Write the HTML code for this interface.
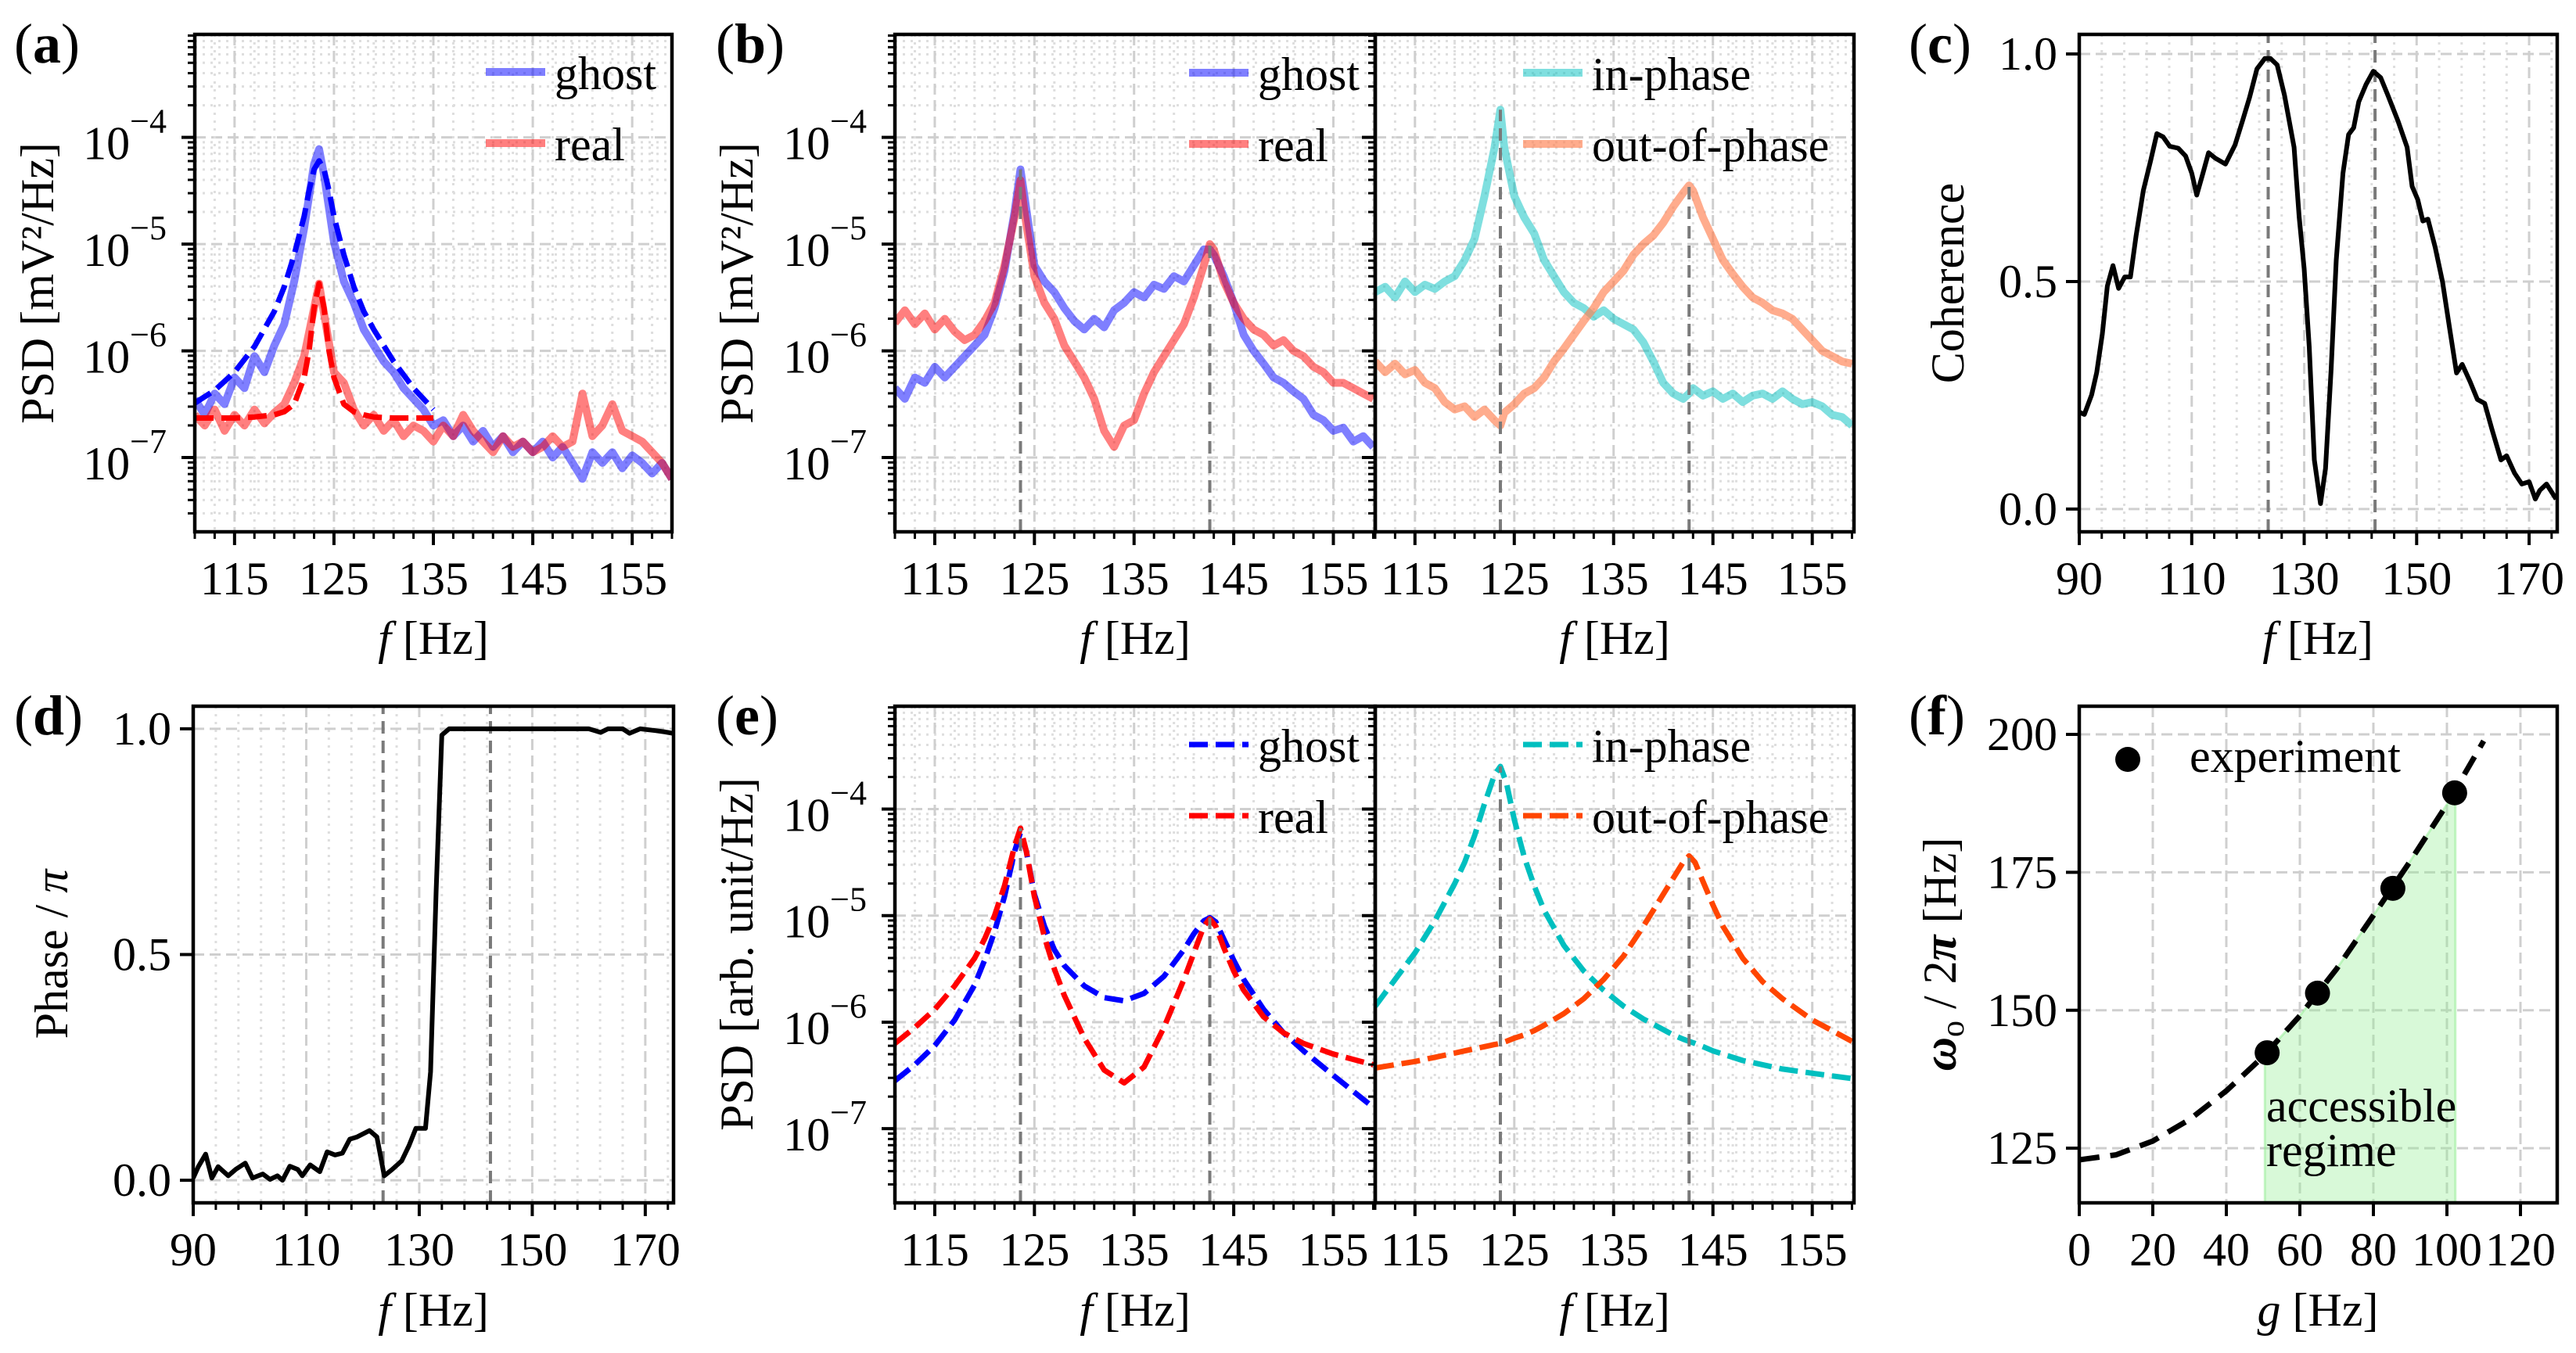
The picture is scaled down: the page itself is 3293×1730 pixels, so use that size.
<!DOCTYPE html>
<html><head><meta charset="utf-8">
<style>
html,body{margin:0;padding:0;background:#fff;}
svg{display:block;font-family:"Liberation Serif","DejaVu Serif",serif;}
</style></head>
<body>
<svg id="fig" width="3293" height="1730" viewBox="0 0 3293 1730" xmlns="http://www.w3.org/2000/svg"></svg>
<script>
// ---------- DATA ----------
const fA=[111,112,113,114,115,116,117,118,119,120,121,122,123,123.5,124,125,126,127,128,129,130,131,132,133,134,135,136,137,138,139,140,141,142,143,144,145,146,147,148,149,150,151,152,153,154,155,156,157,158,159];
const ghostA=[-6.45,-6.60,-6.40,-6.50,-6.25,-6.35,-6.05,-6.20,-5.95,-5.75,-5.35,-4.85,-4.25,-4.11,-4.35,-4.98,-5.35,-5.55,-5.80,-5.95,-6.10,-6.20,-6.35,-6.45,-6.55,-6.70,-6.65,-6.80,-6.70,-6.85,-6.75,-6.90,-6.80,-6.95,-6.85,-6.95,-6.85,-7.00,-6.90,-7.05,-7.20,-6.95,-7.05,-6.95,-7.10,-6.98,-7.05,-7.15,-7.05,-7.20];
const realA=[-6.60,-6.70,-6.55,-6.75,-6.60,-6.70,-6.55,-6.68,-6.58,-6.50,-6.30,-6.05,-5.60,-5.37,-5.65,-6.20,-6.30,-6.55,-6.70,-6.60,-6.75,-6.65,-6.80,-6.70,-6.75,-6.85,-6.70,-6.80,-6.60,-6.75,-6.85,-6.95,-6.80,-6.90,-6.85,-6.95,-6.90,-6.80,-6.90,-6.85,-6.40,-6.80,-6.70,-6.50,-6.75,-6.80,-6.85,-6.95,-7.05,-7.20];
const fitF=[111,113,115,117,119,120,121,122,122.5,123,123.5,124,124.5,125,126,127,128,129,131,133,135];
const ghostFitA=[-6.49,-6.37,-6.20,-5.96,-5.63,-5.40,-5.10,-4.74,-4.50,-4.30,-4.22,-4.30,-4.50,-4.74,-5.10,-5.40,-5.63,-5.80,-6.10,-6.35,-6.55];
const realFitA=[-6.63,-6.63,-6.63,-6.62,-6.60,-6.57,-6.50,-6.25,-6.00,-5.60,-5.37,-5.60,-6.00,-6.25,-6.50,-6.57,-6.60,-6.62,-6.63,-6.63,-6.63];
const fB=[111,112,113,114,115,116,117,118,119,120,121,122,123,123.6,124,125,126,127,128,129,130,131,132,133,134,135,136,137,138,139,140,141,142,142.6,143,144,145,146,147,148,149,150,151,152,153,154,155,156,157,158,159];
const ghostB=[-6.35,-6.45,-6.25,-6.30,-6.15,-6.25,-6.15,-6.05,-5.95,-5.85,-5.60,-5.25,-4.70,-4.30,-4.55,-5.20,-5.35,-5.45,-5.60,-5.72,-5.80,-5.70,-5.78,-5.62,-5.55,-5.45,-5.50,-5.38,-5.42,-5.30,-5.35,-5.20,-5.05,-5.05,-5.10,-5.30,-5.55,-5.85,-6.00,-6.12,-6.25,-6.30,-6.38,-6.45,-6.60,-6.65,-6.75,-6.72,-6.85,-6.80,-6.90];
const realB=[-5.74,-5.62,-5.75,-5.65,-5.80,-5.70,-5.82,-5.90,-5.85,-5.72,-5.55,-5.20,-4.75,-4.40,-4.70,-5.30,-5.55,-5.70,-5.95,-6.10,-6.25,-6.45,-6.75,-6.90,-6.70,-6.65,-6.40,-6.20,-6.05,-5.90,-5.75,-5.50,-5.20,-5.00,-5.05,-5.35,-5.55,-5.70,-5.80,-5.85,-5.95,-5.90,-6.00,-6.05,-6.15,-6.20,-6.30,-6.30,-6.35,-6.40,-6.45];
const inB=[-5.45,-5.40,-5.50,-5.35,-5.45,-5.38,-5.42,-5.35,-5.30,-5.15,-4.95,-4.55,-4.10,-3.74,-4.10,-4.55,-4.75,-4.90,-5.15,-5.30,-5.45,-5.55,-5.60,-5.68,-5.62,-5.70,-5.75,-5.80,-5.92,-6.10,-6.30,-6.40,-6.45,-6.40,-6.35,-6.42,-6.38,-6.45,-6.40,-6.48,-6.42,-6.40,-6.45,-6.38,-6.45,-6.50,-6.48,-6.52,-6.60,-6.62,-6.70];
const outB=[-6.10,-6.20,-6.12,-6.22,-6.18,-6.30,-6.35,-6.48,-6.55,-6.52,-6.62,-6.55,-6.65,-6.70,-6.58,-6.50,-6.40,-6.35,-6.25,-6.10,-5.98,-5.85,-5.72,-5.60,-5.45,-5.35,-5.25,-5.10,-5.00,-4.92,-4.80,-4.65,-4.52,-4.45,-4.50,-4.75,-4.95,-5.15,-5.28,-5.40,-5.50,-5.55,-5.62,-5.65,-5.70,-5.80,-5.90,-6.00,-6.05,-6.10,-6.12];
const fE=[111,113,115,117,119,120,121,122,123,123.6,124.2,125,126,127,128,130,132,134,136,138,140,141,142,142.6,143.2,144,145,146,148,150,152,155,159];
const ghostE=[-6.55,-6.40,-6.22,-5.98,-5.65,-5.42,-5.15,-4.82,-4.40,-4.22,-4.40,-4.80,-5.10,-5.32,-5.47,-5.66,-5.77,-5.80,-5.73,-5.57,-5.32,-5.17,-5.05,-5.02,-5.06,-5.22,-5.42,-5.60,-5.88,-6.10,-6.27,-6.50,-6.80];
const realE=[-6.20,-6.05,-5.88,-5.66,-5.40,-5.22,-5.00,-4.72,-4.35,-4.18,-4.40,-4.82,-5.20,-5.50,-5.75,-6.15,-6.45,-6.57,-6.42,-6.05,-5.60,-5.35,-5.10,-5.03,-5.10,-5.30,-5.52,-5.70,-5.95,-6.10,-6.20,-6.30,-6.40];
const inE=[-5.85,-5.60,-5.35,-5.05,-4.70,-4.50,-4.25,-3.95,-3.68,-3.60,-3.75,-4.10,-4.45,-4.72,-4.95,-5.28,-5.52,-5.70,-5.85,-5.97,-6.07,-6.12,-6.16,-6.18,-6.20,-6.23,-6.27,-6.30,-6.36,-6.40,-6.44,-6.48,-6.53];
const outE=[-6.43,-6.40,-6.37,-6.33,-6.29,-6.27,-6.25,-6.23,-6.21,-6.20,-6.18,-6.15,-6.12,-6.08,-6.03,-5.92,-5.78,-5.60,-5.38,-5.10,-4.80,-4.65,-4.50,-4.44,-4.50,-4.68,-4.90,-5.10,-5.40,-5.62,-5.78,-5.98,-6.18];
const cohF=[90,90.9,92.2,93.1,94.1,95,96,97,98.1,99.1,100.1,101.4,102.7,103.8,104.9,106.1,107.6,108.9,110,110.9,112,113,114.2,116,117.7,119,120.3,121.6,123,124,125.2,126.5,128.2,129.1,130,130.9,131.8,132.9,133.8,134.8,135.7,136.9,137.9,138.8,139.7,141,142.3,143.6,144.9,146.7,148.3,149.2,150.2,151.1,152,153.3,154.6,155.9,157.1,158.1,159.5,160.8,162.1,163.4,165,166,167.4,168.7,170,171.1,171.9,173.1,174.8];
const cohV=[0.213,0.208,0.251,0.30,0.385,0.49,0.535,0.485,0.51,0.51,0.60,0.70,0.766,0.825,0.818,0.797,0.793,0.776,0.738,0.69,0.738,0.783,0.771,0.758,0.80,0.852,0.905,0.967,0.99,0.99,0.976,0.909,0.795,0.642,0.528,0.356,0.108,0.012,0.089,0.308,0.547,0.738,0.823,0.838,0.895,0.933,0.962,0.948,0.909,0.852,0.795,0.709,0.68,0.633,0.637,0.575,0.499,0.394,0.299,0.318,0.28,0.241,0.232,0.175,0.108,0.117,0.079,0.055,0.06,0.022,0.041,0.055,0.022];
const phF=[90,90.9,92.2,93.3,94.4,96.2,97.5,99.2,100.5,102.3,103.6,104.9,105.8,107.1,108.5,109.3,110.7,112.4,113.7,115.1,116.4,117.7,119,121.2,122.5,123.8,125.2,126.9,128.2,129.4,131.1,132,133,134,135.3,140,150,160,162.1,163.4,166,167.2,169.1,171.8,173.5,174.8];
const phV=[0.005,0.03,0.058,0.005,0.03,0.01,0.024,0.038,0.005,0.014,0.002,0.01,0.0,0.031,0.024,0.01,0.034,0.019,0.063,0.056,0.06,0.091,0.096,0.11,0.096,0.01,0.024,0.043,0.077,0.115,0.115,0.24,0.644,0.986,1.0,1.0,1.0,1.0,0.992,1.0,1.0,0.99,1.0,0.996,0.993,0.99];
const expG=[51.1,64.8,85.3,102.1];
const expW=[142.3,153.1,172.1,189.4];
const modelG=[0,10,20,30,40,50,60,70,80,90,100,110];
const modelW=[122.9,123.8,126.3,130.2,135.4,141.6,149.0,157.5,167.2,177.0,187.3,198.8];
const regimeRange=[50.5,102.3];
const refLines=[123.6,142.6];
const psdTicks=[-7,-6,-5,-4];
const fTicks=[115,125,135,145,155];
const wideTicks=[90,110,130,150,170];
const unitTicks=[0,0.5,1.0];
const gTicks=[0,20,40,60,80,100,120];
const wTicks=[125,150,175,200];

// ---------- HELPERS ----------
const NS='http://www.w3.org/2000/svg';
const svg=document.getElementById('fig');
function mk(tag,attrs,parent){const e=document.createElementNS(NS,tag);for(const k in attrs)e.setAttribute(k,attrs[k]);(parent||svg).appendChild(e);return e;}
const FS=60;
const GRIDC='#cfcfcf', MINC='#dedede';

function makeAxes(name,x0,x1,y0,y1,xmin,xmax,ymin,ymax){
  const g=mk('g',{});
  
  
  const sx=v=>x0+(v-xmin)/(xmax-xmin)*(x1-x0);
  const sy=v=>y1-(v-ymin)/(ymax-ymin)*(y1-y0);
  const cid='clip-'+name;
  const cp=mk('clipPath',{id:cid},g);
  mk('rect',{x:x0,y:y0,width:x1-x0,height:y1-y0},cp);
  const grid=mk('g',{},g);
  
  
  const plot=mk('g',{'clip-path':'url(#'+cid+')'},g);
  
  
  const over=mk('g',{},g);
  return {g,grid,plot,over,sx,sy,x0,x1,y0,y1,xmin,xmax,ymin,ymax};
}
function vgrid(A,v,minor){
  const l=mk('line',{x1:A.sx(v),x2:A.sx(v),y1:A.y0,y2:A.y1,stroke:minor?MINC:GRIDC,'stroke-width':minor?3:3,'stroke-dasharray':minor?'3 7':'14 7'},A.grid);
  
  
}
function hgrid(A,v,minor){
  const l=mk('line',{x1:A.x0,x2:A.x1,y1:A.sy(v),y2:A.sy(v),stroke:minor?MINC:GRIDC,'stroke-width':3,'stroke-dasharray':minor?'3 7':'14 7'},A.grid);
  
  
}
function xtick(A,v,len,label,lw){
  const x=A.sx(v);
  mk('line',{x1:x,x2:x,y1:A.y1,y2:A.y1+len,stroke:'#000','stroke-width':lw||4},A.over);
  if(label!==undefined){
    const t=mk('text',{x:x,y:A.y1+80,'text-anchor':'middle','font-size':FS},A.over);
    
    
    t.textContent=label;
  }
}
function ytick(A,v,len,lw){
  const y=A.sy(v);
  mk('line',{x1:A.x0-len,x2:A.x0,y1:y,y2:y,stroke:'#000','stroke-width':lw||4},A.over);
}
function ylabelLin(A,v,label){
  const t=mk('text',{x:A.x0-28,y:A.sy(v)+20,'text-anchor':'end','font-size':FS},A.over);
  
  
  t.textContent=label;
}
function ylabelLog(A,v){
  const t=mk('text',{x:A.x0-36,y:A.sy(v)+28,'text-anchor':'end','font-size':FS},A.over);
  
  
  t.appendChild(document.createTextNode('10'));
  const s=mk('tspan',{dy:-34,'font-size':44},t);
  s.textContent='\u2212'+Math.abs(v);
}
function frame(A){
  const r=mk('rect',{x:A.x0,y:A.y0,width:A.x1-A.x0,height:A.y1-A.y0,fill:'none',stroke:'#000','stroke-width':4.5},A.over);
  
  
}
function line(A,xs,ys,attrs,nm){
  let d='';
  for(let i=0;i<xs.length;i++){d+=(i?'L':'M')+A.sx(xs[i]).toFixed(1)+','+A.sy(ys[i]).toFixed(1);}
  const p=mk('path',Object.assign({d:d,fill:'none','stroke-linejoin':'round','stroke-linecap':'butt'},attrs),A.plot);
  
  
  return p;
}
function refLine(A,f,top){
  const l=mk('line',{x1:A.sx(f),x2:A.sx(f),y1:A.y1,y2:top===undefined?A.y0:A.sy(top),stroke:'#7a7a7a','stroke-width':4,'stroke-dasharray':'16 9'},A.plot);
  
  
}
function text(x,y,str,fs,nm,anchor,extra){
  const t=mk('text',Object.assign({x:x,y:y,'font-size':fs,'text-anchor':anchor||'start'},extra||{}));
  
  
  t.innerHTML=str;
  return t;
}
function legendEntry(x,y,color,label,dashed,nm){
  const g=mk('g',{});
  
  
  const a={x1:x,x2:x+76,y1:y,y2:y,stroke:color,'stroke-width':dashed?7:10};
  if(dashed)a['stroke-dasharray']='24 10';
  mk('line',a,g);
  const t=mk('text',{x:x+88,y:y+22,'font-size':FS},g);
  t.textContent=label;
}
function logTicks(A,isLeftLabeled){
  for(let d=-8;d<=-3;d++){
    for(let k=1;k<=9;k++){
      const v=d+Math.log10(k);
      if(v<A.ymin||v>A.ymax)continue;
      if(k===1){hgrid(A,v,false);ytick(A,v,17,4);if(isLeftLabeled)ylabelLog(A,v);}
      else{hgrid(A,v,true);ytick(A,v,9,3);}
    }
  }
}
function fTickSet(A){
  for(let f=111;f<=159;f+=2){
    if(fTicks.indexOf(f)>=0){vgrid(A,f,false);xtick(A,f,17,String(f));}
    else{vgrid(A,f,true);xtick(A,f,9,undefined,3);}
  }
}
function wideTickSet(A){
  for(let f=90;f<=175;f+=4){
    if(wideTicks.indexOf(f)>=0)continue;
    vgrid(A,f,true);xtick(A,f,9,undefined,3);
  }
  for(const f of [94,98,102,106,114,118,122,126,134,138,142,146,154,158,162,166,174]){}
  wideTicks.forEach(f=>{vgrid(A,f,false);xtick(A,f,17,String(f));});
  unitTicks.forEach(v=>{hgrid(A,v,false);ytick(A,v,17);ylabelLin(A,v,v.toFixed(1));});
}
function fLabel(cx,y){
  text(cx,y,'<tspan font-style="italic">f</tspan> [Hz]',FS,'x-axis-title','middle');
}
function yTitle(cx,cy,str,nm){
  const t=text(0,0,str,FS,nm,'middle',{transform:'translate('+cx+','+cy+') rotate(-90)'});
  return t;
}

// ---------- ROW 1 ----------
const R1=[44,680], R2=[903,1538];
const LMIN=-7.696, LMAX=-3.035;

// (a)
const A=makeAxes('panel-a',249,859,R1[0],R1[1],111,159,LMIN,LMAX);
logTicks(A,true); fTickSet(A);
line(A,fA,ghostA,{stroke:'rgba(0,0,255,0.5)','stroke-width':10},'ghost-measured-line');
line(A,fA,realA,{stroke:'rgba(255,0,0,0.5)','stroke-width':10},'real-measured-line');
line(A,fitF,ghostFitA,{stroke:'#0000ff','stroke-width':7,'stroke-dasharray':'24 10'},'ghost-fit-line');
line(A,fitF,realFitA,{stroke:'#ff0000','stroke-width':7,'stroke-dasharray':'24 10'},'real-fit-line');
frame(A);
legendEntry(621,92,'rgba(0,0,255,0.5)','ghost',false,'legend-ghost');
legendEntry(621,183,'rgba(255,0,0,0.5)','real',false,'legend-real');
yTitle(68,362,'PSD [mV²/Hz]','y-axis-title');
fLabel(554,836);
text(18,80,'(<tspan font-weight="bold">a</tspan>)',72,'panel-label-a');

// (b)
const B1=makeAxes('panel-b-left',1144,1758,R1[0],R1[1],111,159.2,LMIN,LMAX);
logTicks(B1,true); fTickSet(B1);
line(B1,fB,ghostB,{stroke:'rgba(0,0,255,0.5)','stroke-width':10},'ghost-measured-line');
line(B1,fB,realB,{stroke:'rgba(255,0,0,0.5)','stroke-width':10},'real-measured-line');
refLine(B1,refLines[0],-4.30); refLine(B1,refLines[1],-4.97);
frame(B1);
const B2=makeAxes('panel-b-right',1758,2370,R1[0],R1[1],111,159.2,LMIN,LMAX);
logTicks(B2,false); fTickSet(B2);
line(B2,fB,inB,{stroke:'rgba(0,191,191,0.5)','stroke-width':10},'in-phase-measured-line');
line(B2,fB,outB,{stroke:'rgba(255,127,80,0.65)','stroke-width':10},'out-of-phase-measured-line');
refLine(B2,refLines[0],-3.74); refLine(B2,refLines[1],-4.45);
frame(B2);
legendEntry(1520,93,'rgba(0,0,255,0.5)','ghost',false,'legend-ghost');
legendEntry(1520,184,'rgba(255,0,0,0.5)','real',false,'legend-real');
legendEntry(1947,93,'rgba(0,191,191,0.5)','in-phase',false,'legend-in-phase');
legendEntry(1947,184,'rgba(255,127,80,0.65)','out-of-phase',false,'legend-out-of-phase');
yTitle(962,362,'PSD [mV²/Hz]','y-axis-title');
fLabel(1451,836); fLabel(2064,836);
text(915,80,'(<tspan font-weight="bold">b</tspan>)',72,'panel-label-b');

// (c)
const C=makeAxes('panel-c',2658,3269,R1[0],R1[1],90,175,-0.05,1.043);
wideTickSet(C);
refLine(C,refLines[0]); refLine(C,refLines[1]);
line(C,cohF,cohV,{stroke:'#000','stroke-width':6},'coherence-line');
frame(C);
yTitle(2510,362,'Coherence','y-axis-title');
fLabel(2963,836);
text(2440,80,'(<tspan font-weight="bold">c</tspan>)',72,'panel-label-c');

// ---------- ROW 2 ----------
// (d)
const D=makeAxes('panel-d',247,861,R2[0],R2[1],90,175,-0.05,1.05);
wideTickSet(D);
refLine(D,refLines[0]); refLine(D,refLines[1]);
line(D,phF,phV,{stroke:'#000','stroke-width':6},'phase-line');
frame(D);
yTitle(86,1220,'Phase / <tspan font-style="italic">π</tspan>','y-axis-title');
fLabel(554,1695);
text(18,939,'(<tspan font-weight="bold">d</tspan>)',72,'panel-label-d');

// (e)
const E1=makeAxes('panel-e-left',1144,1758,R2[0],R2[1],111,159.2,LMIN,LMAX);
logTicks(E1,true); fTickSet(E1);
line(E1,fE,ghostE,{stroke:'#0000ff','stroke-width':7,'stroke-dasharray':'24 10'},'ghost-theory-line');
line(E1,fE,realE,{stroke:'#ff0000','stroke-width':7,'stroke-dasharray':'24 10'},'real-theory-line');
refLine(E1,refLines[0],-4.18); refLine(E1,refLines[1],-5.02);
frame(E1);
const E2=makeAxes('panel-e-right',1758,2370,R2[0],R2[1],111,159.2,LMIN,LMAX);
logTicks(E2,false); fTickSet(E2);
line(E2,fE,inE,{stroke:'#00bfbf','stroke-width':7,'stroke-dasharray':'24 10'},'in-phase-theory-line');
line(E2,fE,outE,{stroke:'#ff4500','stroke-width':7,'stroke-dasharray':'24 10'},'out-of-phase-theory-line');
refLine(E2,refLines[0],-3.60); refLine(E2,refLines[1],-4.44);
frame(E2);
legendEntry(1520,952,'#0000ff','ghost',true,'legend-ghost');
legendEntry(1520,1043,'#ff0000','real',true,'legend-real');
legendEntry(1947,952,'#00bfbf','in-phase',true,'legend-in-phase');
legendEntry(1947,1043,'#ff4500','out-of-phase',true,'legend-out-of-phase');
yTitle(962,1220,'PSD [arb. unit/Hz]','y-axis-title');
fLabel(1451,1695); fLabel(2064,1695);
text(915,939,'(<tspan font-weight="bold">e</tspan>)',72,'panel-label-e');

// (f)
const F=makeAxes('panel-f',2658,3269,R2[0],R2[1],0,130,115.1,205.1);
gTicks.forEach(v=>{vgrid(F,v,false);xtick(F,v,17,String(v));});
wTicks.forEach(v=>{hgrid(F,v,false);ytick(F,v,17);ylabelLin(F,v,String(v));});
(function(){
  // fill under model curve within accessible regime
  let d='M'+F.sx(regimeRange[0]).toFixed(1)+','+F.sy(F.ymin);
  const pts=[];
  const wAt=g=>{for(let i=0;i<modelG.length-1;i++){if(g>=modelG[i]&&g<=modelG[i+1]){const t=(g-modelG[i])/(modelG[i+1]-modelG[i]);return modelW[i]+t*(modelW[i+1]-modelW[i]);}}return modelW[modelW.length-1];};
  pts.push([regimeRange[0],wAt(regimeRange[0])]);
  modelG.forEach((g,i)=>{if(g>regimeRange[0]&&g<regimeRange[1])pts.push([g,modelW[i]]);});
  pts.push([regimeRange[1],wAt(regimeRange[1])]);
  pts.forEach(p=>{d+='L'+F.sx(p[0]).toFixed(1)+','+F.sy(p[1]).toFixed(1);});
  d+='L'+F.sx(regimeRange[1]).toFixed(1)+','+F.sy(F.ymin)+'Z';
  const a=mk('path',{d:d,fill:'rgba(144,238,144,0.35)',stroke:'rgba(144,238,144,0.5)','stroke-width':3},F.plot);
  
  
})();
line(F,modelG,modelW,{stroke:'#000','stroke-width':7,'stroke-dasharray':'26 14'},'model-curve');
expG.forEach((g,i)=>{
  const c=mk('circle',{cx:F.sx(g),cy:F.sy(expW[i]),r:16,fill:'#000'},F.plot);
  
  
});
frame(F);
(function(){
  const g=mk('g',{});
  
  
  mk('circle',{cx:2720,cy:971,r:16,fill:'#000'},g);
  const t=mk('text',{x:2799,y:987,'font-size':FS},g);
  t.textContent='experiment';
})();
text(2897,1434,'accessible',FS,'regime-annotation');
text(2897,1491,'regime',FS,'regime-annotation');
yTitle(2500,1220,'<tspan font-style="italic" font-weight="bold">ω</tspan><tspan font-size="42" dy="10">o</tspan><tspan dy="-10"> / 2</tspan><tspan font-style="italic" font-weight="bold">π</tspan> [Hz]','y-axis-title');
text(2963,1695,'<tspan font-style="italic">g</tspan> [Hz]',FS,'x-axis-title','middle');
text(2440,939,'(<tspan font-weight="bold">f</tspan>)',72,'panel-label-f');
</script>
</body></html>
